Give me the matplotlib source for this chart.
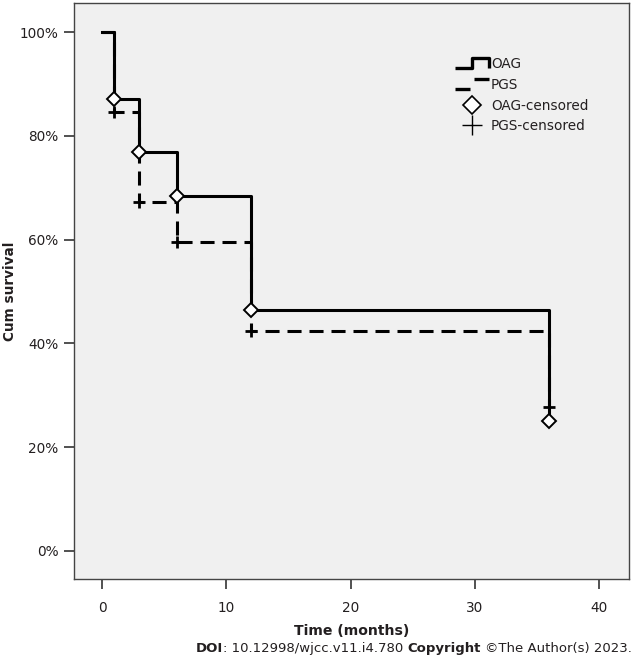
import matplotlib
matplotlib.use("Agg")
import matplotlib.pyplot as plt
from matplotlib.lines import Line2D
from matplotlib.legend_handler import HandlerBase
import numpy as np

# ---- data ----
oag_times = [0, 1, 3, 6, 12, 36]
oag_surv = [100, 87.1, 76.9, 68.4, 46.5, 25.0]
oag_cens_t = [1, 3, 6, 12, 36]
oag_cens_s = [87.1, 76.9, 68.4, 46.5, 25.0]

pgs_times = [0, 1, 3, 6, 12, 36]
pgs_surv = [100, 84.6, 67.3, 59.5, 42.3, 27.7]
pgs_cens_t = [1, 3, 6, 12, 36]
pgs_cens_s = [84.6, 67.3, 59.5, 42.3, 27.7]

xticks = [0, 10, 20, 30, 40]
yticks = [0, 20, 40, 60, 80, 100]
ytick_labels = [f"{v}%" for v in yticks]

TXT = "#231f20"
FS = 9.8
FS_FOOT = 9.5
plt.rcParams['font.family'] = ['DejaVu Sans']

fig = plt.figure(figsize=(6.33, 6.60), dpi=100)
W, H = 633, 660
ax = fig.add_axes([74 / W, 1 - 579 / H, (629 - 74) / W, (579 - 3) / H])
ax.set_facecolor("#f0f0f0")

DASH = (4.6, 2.6)
ax.plot(pgs_times, pgs_surv, drawstyle="steps-post", color="black", lw=2.2,
        linestyle=(0, DASH), zorder=2)
ax.plot(oag_times, oag_surv, drawstyle="steps-post", color="black", lw=2.2,
        zorder=3)
ax.plot(pgs_cens_t, pgs_cens_s, linestyle="none", marker="+", ms=9, mew=2.0,
        color="black", zorder=4)
ax.plot(oag_cens_t, oag_cens_s, linestyle="none", marker="D", ms=7.5, mew=1.4,
        markerfacecolor="white", markeredgecolor="black", zorder=5)

ax.set_xlim(-2.25, 42.4)
ax.set_ylim(-5.4, 105.6)
ax.set_xticks(xticks)
ax.set_xticklabels([str(v) for v in xticks])
ax.set_yticks(yticks)
ax.set_yticklabels(ytick_labels)
ax.tick_params(axis="both", direction="out", length=7, width=1.2,
               colors="#333333", labelcolor=TXT, labelsize=FS, pad=4)
ax.tick_params(axis="x", pad=9)
for sp in ax.spines.values():
    sp.set_color("#444444")
    sp.set_linewidth(1.0)

ax.set_xlabel("Time (months)", fontsize=FS + 0.3, fontweight="bold", color=TXT,
              labelpad=6)
ax.set_ylabel("Cum survival", fontsize=FS, fontweight="bold", color=TXT)
ax.yaxis.set_label_coords((17 - 74) / 555, 0.5)


class StepHandler(HandlerBase):
    def __init__(self, dashed=False):
        super().__init__()
        self.dashed = dashed

    def create_artists(self, legend, orig_handle, xdescent, ydescent,
                       width, height, fontsize, trans):
        x0 = -xdescent
        y0 = -ydescent
        if not self.dashed:
            xs = np.array([0, 0.5, 0.5, 1.0, 1.0])
            ys = np.array([0.05, 0.05, 1.0, 1.0, 0.0])
        else:
            xs = np.array([0, 0.45, np.nan, 0.55, 1.0])
            ys = np.array([0.0, 0.0, np.nan, 0.95, 0.95])
        ln = Line2D(x0 + xs * width, y0 + ys * height, color="black", lw=2.4,
                    solid_capstyle="butt")
        ln.set_transform(trans)
        return [ln]


h_oag = Line2D([], [], color="black")
h_pgs = Line2D([], [], color="black", linestyle="--")
h_oc = Line2D([], [], linestyle="none", marker="D", ms=9, mew=1.2,
              markerfacecolor="white", markeredgecolor="black")
h_pc = Line2D([], [], linestyle="none", marker="+", ms=14, mew=1.0,
              color="black")
leg = fig.legend([h_oag, h_pgs, h_oc, h_pc],
                 ["OAG", "PGS", "OAG-censored", "PGS-censored"],
                 handler_map={h_oag: StepHandler(False),
                              h_pgs: StepHandler(True)},
                 loc="upper left", bbox_to_anchor=(455 / W, 1 - 57 / H),
                 frameon=False, fontsize=FS, handlelength=2.5,
                 handletextpad=0.15, labelspacing=0.5, borderpad=0,
                 borderaxespad=0, handleheight=0.8)
for t in leg.get_texts():
    t.set_color(TXT)

# footer
t1 = fig.text(196 / W, 1 - 655 / H, "DOI", fontsize=FS_FOOT, fontweight="bold",
              color=TXT, va="bottom", ha="left")
a2 = ax.annotate(": 10.12998/wjcc.v11.i4.780 ", xy=(1, 0), xycoords=t1,
                 fontsize=FS_FOOT, color=TXT, va="bottom", ha="left",
                 annotation_clip=False)
a3 = ax.annotate("Copyright", xy=(1, 0), xycoords=a2, fontsize=FS_FOOT,
                 fontweight="bold", color=TXT, va="bottom", ha="left",
                 annotation_clip=False)
a4 = ax.annotate("\u00a9The Author(s) 2023.", xy=(1, 0), xycoords=a3,
                 xytext=(3, 0), textcoords="offset points",
                 fontsize=FS_FOOT, color=TXT, va="bottom", ha="left",
                 annotation_clip=False)

fig.savefig("out.png", dpi=100, facecolor="white")
